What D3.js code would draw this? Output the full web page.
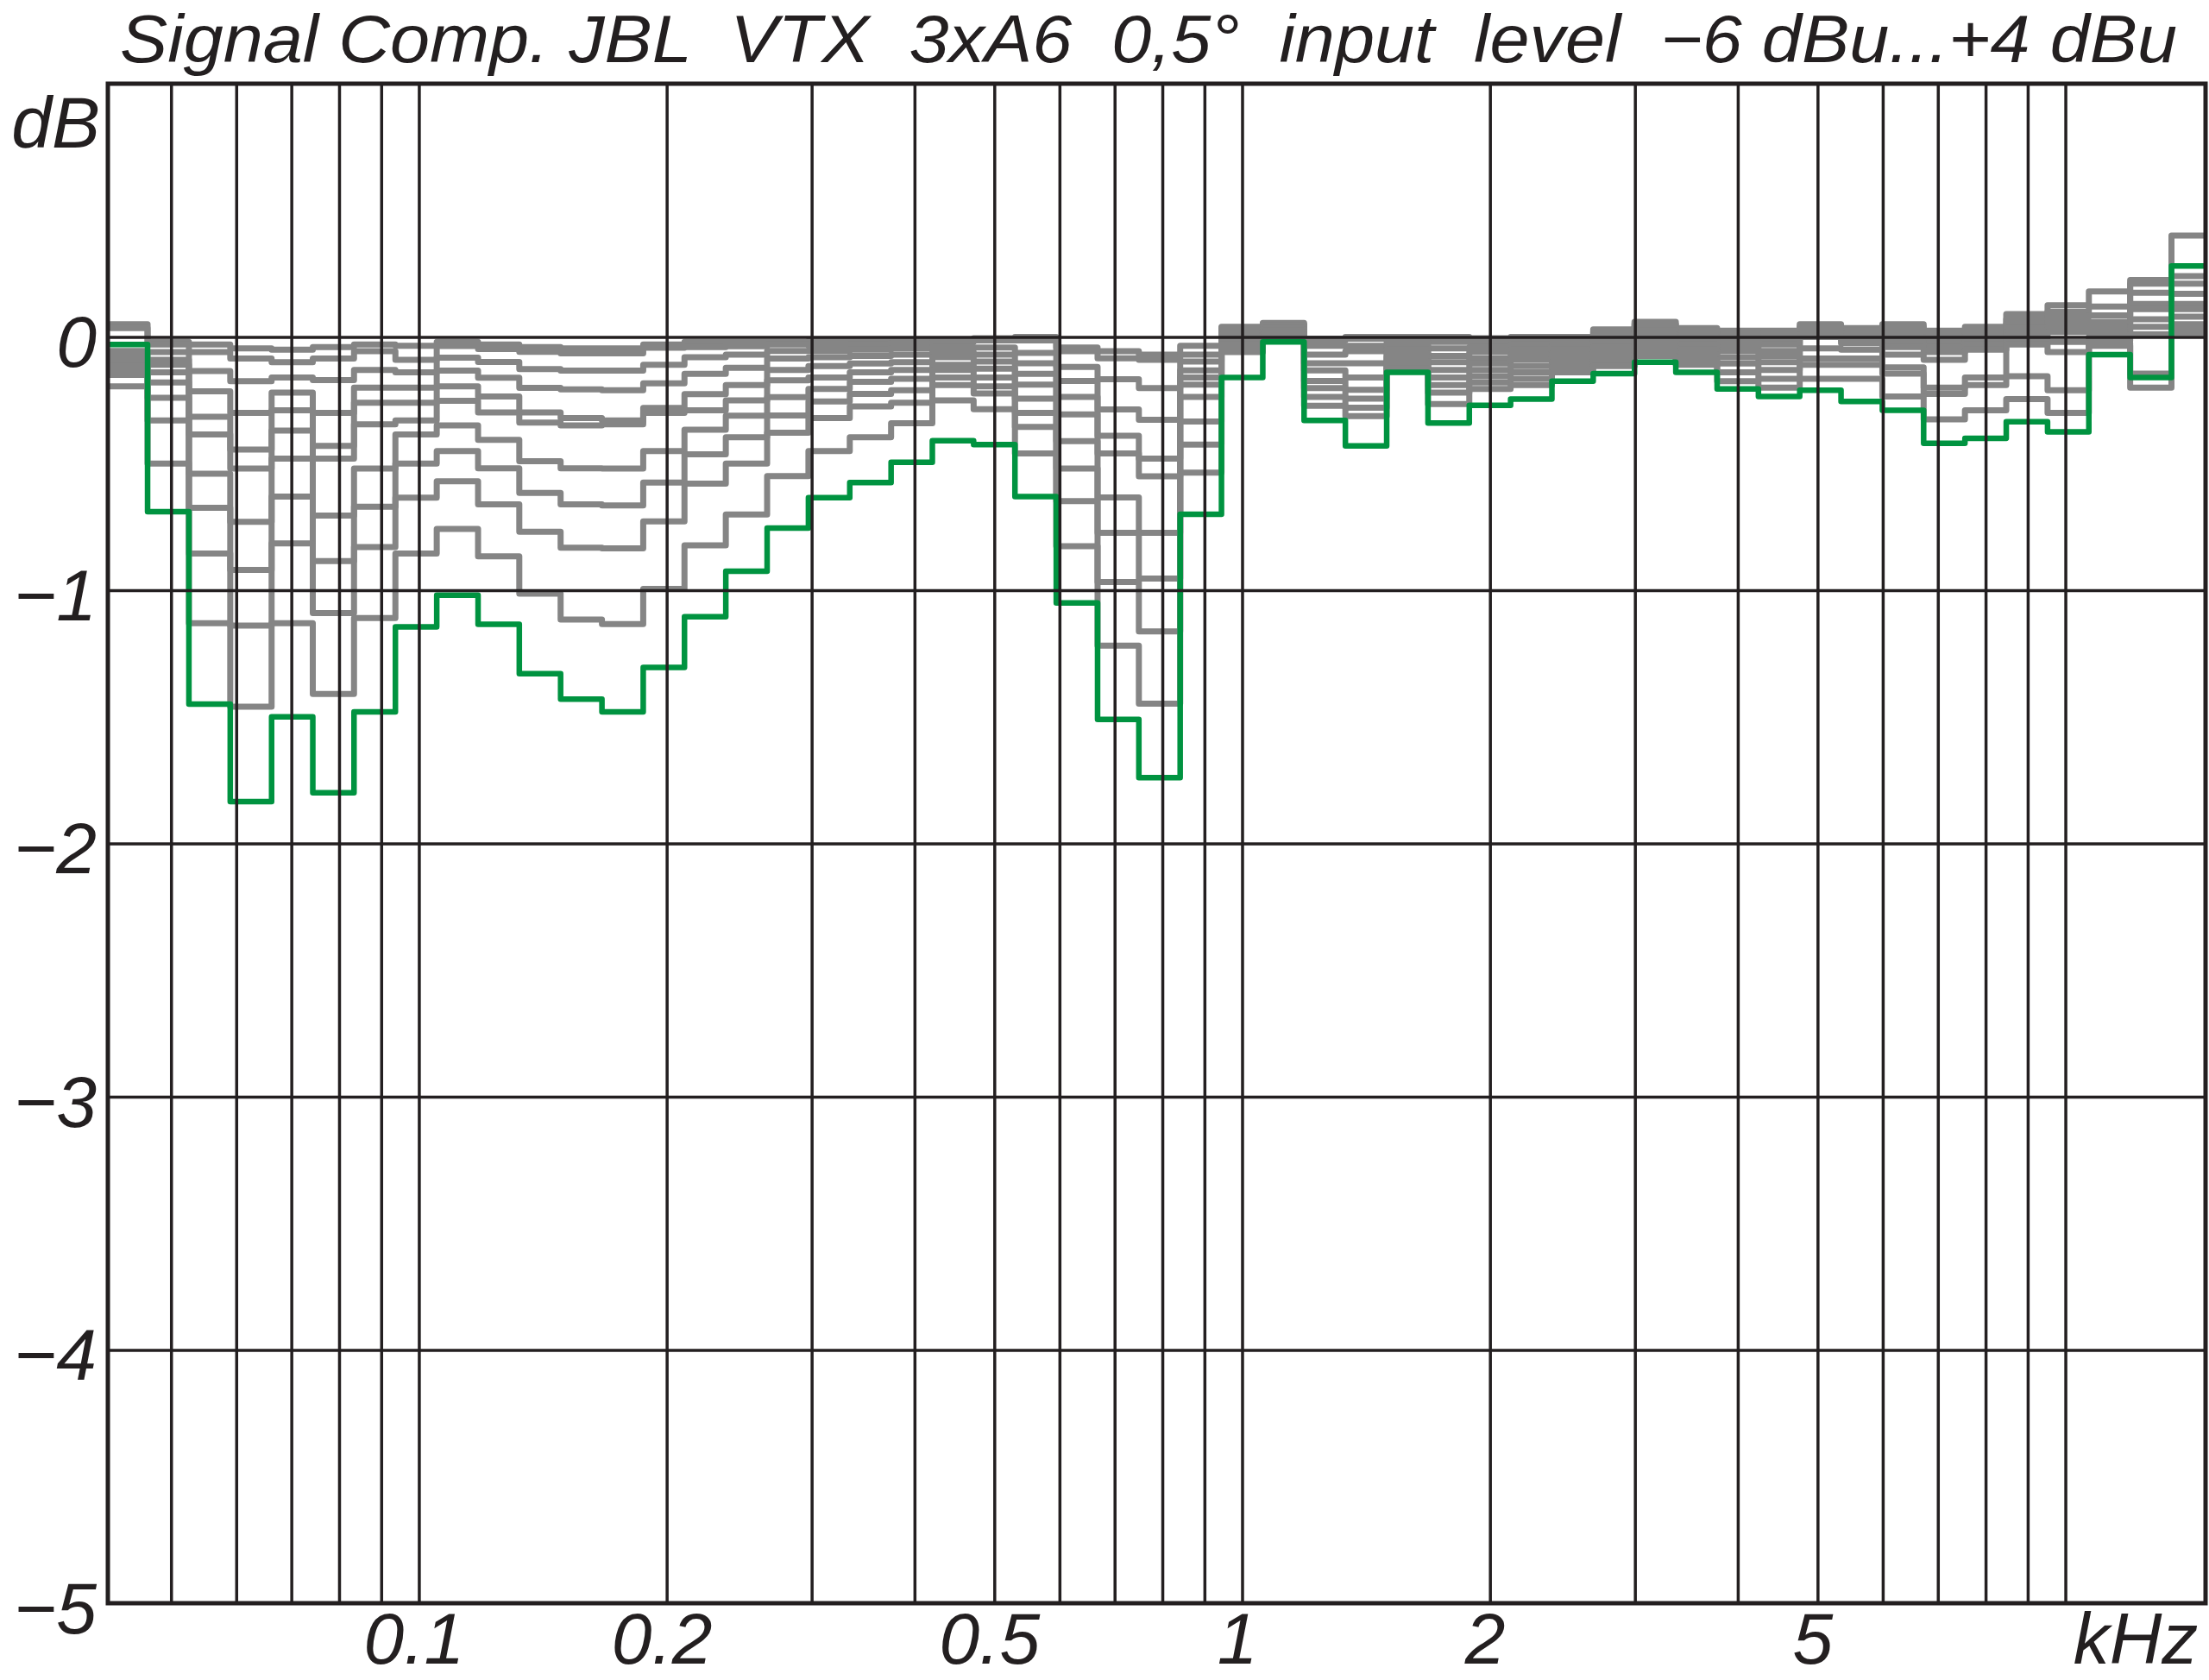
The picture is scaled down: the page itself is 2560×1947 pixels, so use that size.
<!DOCTYPE html>
<html>
<head>
<meta charset="utf-8">
<script src="https://cdn.jsdelivr.net/npm/d3@7"></script>
<style>
    body { margin: 0; background: #fff; }
    svg { display: block; }
    text { font-family: "Liberation Sans", Arial, sans-serif; font-style: italic; fill: #231f20; }
</style>
</head>
<body>
<svg id="chart"></svg>
<script>
// 1/6 octave band centres (Hz)
var bandCenters = [44.2, 49.6, 55.7, 62.5, 70.2, 78.7, 88.4, 99.2, 111.4, 125,
    140.3, 157.5, 176.8, 198.4, 222.7, 250, 280.6, 315.0, 353.6, 396.9,
    445.4, 500, 561.2, 630.0, 707.1, 793.7, 890.9, 1000, 1122.5, 1259.9,
    1414.2, 1587.4, 1781.8, 2000, 2244.9, 2519.8, 2828.4, 3174.8, 3563.6, 4000,
    4489.8, 5039.7, 5656.9, 6349.6, 7127.2, 8000, 8979.7, 10079.4, 11313.7, 12699.2,
    14254.4];

// level deviation in dB per band, one array per input level
var levelM6 = [0.05, -0.02, -0.03, -0.045, -0.05, -0.04, -0.03, -0.035, -0.02, -0.03,
    -0.04, -0.045, -0.045, -0.03, -0.02, -0.02, -0.02, -0.015, -0.015, -0.01,
    -0.01, -0.005, 0.0, -0.042, -0.056, -0.07, -0.035, 0.04, 0.055, -0.007,
    0.0, 0.0, 0.0, -0.005, 0.0, 0.0, 0.03, 0.06, 0.035, 0.025,
    0.025, 0.05, 0.035, 0.05, 0.025, 0.04, 0.09, 0.125, 0.18, 0.225, 0.40];
var levelM5 = [0.035, -0.03, -0.06, -0.085, -0.10, -0.085, -0.056, -0.09, -0.036, -0.048,
    -0.059, -0.065, -0.065, -0.043, -0.04, -0.037, -0.03, -0.035, -0.03, -0.025,
    -0.02, -0.014, -0.014, -0.056, -0.084, -0.09, -0.07, 0.035, 0.05, -0.014,
    -0.007, -0.01, -0.02, -0.02, -0.015, -0.01, 0.02, 0.05, 0.025, 0.015,
    0.01, 0.04, 0.025, 0.04, 0.01, 0.03, 0.07, 0.10, 0.12, 0.21, 0.24];
var levelM4 = [-0.055, -0.06, -0.135, -0.175, -0.16, -0.17, -0.13, -0.14, -0.082, -0.099,
    -0.127, -0.133, -0.133, -0.11, -0.08, -0.07, -0.055, -0.055, -0.05, -0.045,
    -0.04, -0.042, -0.063, -0.118, -0.167, -0.202, -0.097, 0.03, 0.045, -0.035,
    -0.035, -0.02, -0.045, -0.04, -0.03, -0.02, 0.005, 0.04, 0.015, 0.0,
    -0.01, 0.03, 0.01, 0.02, -0.005, 0.015, 0.05, 0.08, 0.085, 0.175, 0.21];
var levelM3 = [-0.07, -0.09, -0.215, -0.30, -0.22, -0.30, -0.20, -0.20, -0.133, -0.161,
    -0.201, -0.207, -0.21, -0.183, -0.146, -0.122, -0.085, -0.08, -0.075, -0.07,
    -0.06, -0.07, -0.104, -0.174, -0.286, -0.327, -0.132, 0.02, 0.04, -0.07,
    -0.056, -0.035, -0.075, -0.06, -0.05, -0.035, -0.01, 0.025, 0.0, -0.015,
    -0.03, 0.02, 0.0, 0.0, -0.02, 0.0, 0.035, 0.06, 0.06, 0.13, 0.17];
var levelM2 = [-0.085, -0.11, -0.315, -0.445, -0.29, -0.43, -0.26, -0.26, -0.195, -0.235,
    -0.298, -0.32, -0.33, -0.28, -0.226, -0.19, -0.13, -0.115, -0.105, -0.10,
    -0.08, -0.097, -0.146, -0.237, -0.39, -0.48, -0.16, 0.01, 0.035, -0.104,
    -0.104, -0.05, -0.10, -0.085, -0.07, -0.05, -0.025, 0.01, -0.015, -0.035,
    -0.055, 0.01, -0.01, -0.02, -0.04, -0.015, 0.02, 0.04, 0.04, 0.11, 0.13];
var levelM1 = [-0.10, -0.14, -0.385, -0.52, -0.37, -0.48, -0.345, -0.33, -0.252, -0.298,
    -0.338, -0.349, -0.345, -0.30, -0.29, -0.25, -0.171, -0.16, -0.14, -0.13,
    -0.11, -0.125, -0.188, -0.306, -0.46, -0.55, -0.188, 0.0, 0.03, -0.132,
    -0.16, -0.065, -0.13, -0.105, -0.09, -0.065, -0.04, 0.0, -0.03, -0.055,
    -0.075, 0.0, -0.025, -0.04, -0.06, -0.03, 0.005, 0.02, 0.02, 0.07, 0.11];
var level0 = [-0.115, -0.18, -0.54, -0.73, -0.48, -0.705, -0.52, -0.385, -0.349, -0.406,
    -0.491, -0.519, -0.52, -0.451, -0.366, -0.311, -0.238, -0.205, -0.177, -0.165,
    -0.13, -0.16, -0.244, -0.411, -0.634, -0.773, -0.237, -0.015, 0.025, -0.174,
    -0.209, -0.08, -0.16, -0.13, -0.115, -0.085, -0.06, -0.015, -0.05, -0.08,
    -0.10, -0.045, -0.05, -0.07, -0.09, -0.05, -0.01, -0.02, 0.0, 0.04, 0.08];
var levelP1 = [-0.13, -0.24, -0.675, -0.92, -0.63, -0.885, -0.67, -0.50, -0.451, -0.519,
    -0.616, -0.661, -0.665, -0.575, -0.463, -0.396, -0.31, -0.255, -0.225, -0.21,
    -0.16, -0.195, -0.30, -0.52, -0.773, -0.954, -0.334, -0.03, 0.02, -0.202,
    -0.244, -0.095, -0.19, -0.155, -0.14, -0.10, -0.075, -0.035, -0.07, -0.105,
    -0.13, -0.085, -0.085, -0.12, -0.20, -0.16, -0.03, -0.06, -0.015, 0.01, 0.05];
var levelP2 = [-0.15, -0.33, -0.855, -1.14, -0.815, -1.09, -0.83, -0.635, -0.57, -0.661,
    -0.769, -0.832, -0.835, -0.728, -0.579, -0.50, -0.378, -0.32, -0.274, -0.26,
    -0.19, -0.223, -0.355, -0.648, -0.968, -1.163, -0.425, -0.045, 0.01, -0.237,
    -0.279, -0.11, -0.22, -0.18, -0.165, -0.12, -0.095, -0.055, -0.09, -0.14,
    -0.165, -0.11, -0.11, -0.145, -0.225, -0.19, -0.155, -0.21, -0.025, -0.145, 0.03];
var levelP3 = [-0.195, -0.50, -1.13, -1.46, -1.13, -1.41, -1.11, -0.855, -0.758, -0.866,
    -1.014, -1.116, -1.134, -0.995, -0.823, -0.701, -0.549, -0.451, -0.396, -0.341,
    -0.25, -0.285, -0.46, -0.826, -1.219, -1.448, -0.536, -0.06, 0.0, -0.272,
    -0.313, -0.125, -0.265, -0.205, -0.19, -0.14, -0.115, -0.075, -0.11, -0.175,
    -0.20, -0.165, -0.165, -0.235, -0.325, -0.29, -0.245, -0.30, -0.035, -0.20, 0.015];
var levelP4 = [-0.03, -0.69, -1.45, -1.835, -1.50, -1.80, -1.48, -1.145, -1.02, -1.135,
    -1.33, -1.43, -1.48, -1.305, -1.105, -0.925, -0.755, -0.635, -0.575, -0.495,
    -0.41, -0.425, -0.63, -1.05, -1.51, -1.74, -0.70, -0.16, -0.02, -0.33,
    -0.43, -0.14, -0.34, -0.27, -0.245, -0.175, -0.145, -0.10, -0.14, -0.205,
    -0.235, -0.21, -0.255, -0.29, -0.42, -0.40, -0.335, -0.375, -0.07, -0.16, 0.28];

var grayLevels = [levelM6, levelM5, levelM4, levelM3, levelM2, levelM1, level0, levelP1, levelP2, levelP3];

// grid and tick values
var gridFreqs = [50, 60, 70, 80, 90, 100, 200, 300, 400, 500, 600, 700, 800, 900,
    1000, 2000, 3000, 4000, 5000, 6000, 7000, 8000, 9000, 10000];
var xTickValues = [100, 200, 500, 1000, 2000, 5000];
var xTickLabels = ["0.1", "0.2", "0.5", "1", "2", "5"];
var yGridValues = [0, -1, -2, -3, -4];
var yTickValues = [0, -1, -2, -3, -4, -5];
var titleText = "Signal Comp. JBL  VTX  3xA6  0,5°  input  level  \u22126 dBu...+4 dBu";

// Set the dimensions of the drawing
var width = 2560,
    height = 1947,
    plot = {left: 125, right: 2556, top: 97, bottom: 1858};

var ink = "#231f20",
    grayColor = "#858585",
    greenColor = "#009340",
    fontSize = 84;

var svg = d3.select("#chart")
    .attr("width", width)
    .attr("height", height);

var x = d3.scaleLog()
    .domain([41.9, 14800])
    .range([plot.left, plot.right]);

var y = d3.scaleLinear()
    .domain([-5, 1])
    .range([plot.bottom, plot.top]);

// band edges half way (log) between the centres
var n = bandCenters.length;
var edges = [];
edges.push(bandCenters[0] * Math.sqrt(bandCenters[0] / bandCenters[1]));
for (var i = 1; i < n; i++) {
    edges.push(Math.sqrt(bandCenters[i - 1] * bandCenters[i]));
}
edges.push(bandCenters[n - 1] * Math.sqrt(bandCenters[n - 1] / bandCenters[n - 2]));

function stepPoints(values) {
    var pts = [];
    values.forEach(function(v, i) {
        pts.push([edges[i], v]);
        pts.push([edges[i + 1], v]);
    });
    return pts;
}

var line = d3.line()
    .x(function(d) { return x(d[0]); })
    .y(function(d) { return y(d[1]); });

svg.append("clipPath")
    .attr("id", "plot-clip")
    .append("rect")
    .attr("x", plot.left)
    .attr("y", plot.top)
    .attr("width", plot.right - plot.left)
    .attr("height", plot.bottom - plot.top);

var curves = svg.append("g")
    .attr("clip-path", "url(#plot-clip)");

curves.selectAll("path.gray")
    .data(grayLevels)
    .enter().append("path")
    .attr("class", "gray")
    .attr("d", function(d) { return line(stepPoints(d)); })
    .attr("fill", "none")
    .attr("stroke", grayColor)
    .attr("stroke-width", 7)
    .attr("stroke-linejoin", "round");

curves.append("path")
    .attr("class", "green")
    .attr("d", line(stepPoints(levelP4)))
    .attr("fill", "none")
    .attr("stroke", greenColor)
    .attr("stroke-width", 6.5)
    .attr("stroke-linejoin", "round");

// grid lines on top of the curves
var xGrid = svg.append("g")
    .attr("transform", "translate(0," + plot.bottom + ")")
    .call(d3.axisBottom(x)
        .tickValues(gridFreqs)
        .tickSize(-(plot.bottom - plot.top))
        .tickFormat(""));
xGrid.select(".domain").remove();
xGrid.selectAll("line")
    .attr("stroke", ink)
    .attr("stroke-width", 3.5);

var yGrid = svg.append("g")
    .attr("transform", "translate(" + plot.left + ",0)")
    .call(d3.axisLeft(y)
        .tickValues(yGridValues)
        .tickSize(-(plot.right - plot.left))
        .tickFormat(""));
yGrid.select(".domain").remove();
yGrid.selectAll("line")
    .attr("stroke", ink)
    .attr("stroke-width", 3.5);

// frame
svg.append("rect")
    .attr("x", plot.left)
    .attr("y", plot.top)
    .attr("width", plot.right - plot.left)
    .attr("height", plot.bottom - plot.top)
    .attr("fill", "none")
    .attr("stroke", ink)
    .attr("stroke-width", 5);

// x labels
var xLabels = svg.append("g")
    .attr("transform", "translate(0,1928)")
    .call(d3.axisBottom(x)
        .tickValues(xTickValues)
        .tickSize(0)
        .tickFormat(function(d, i) { return xTickLabels[i]; }));
xLabels.select(".domain").remove();
xLabels.attr("font-family", null).attr("font-size", null);
xLabels.selectAll("text")
    .attr("x", -6)
    .attr("y", 0)
    .attr("dy", 0)
    .style("font-size", fontSize + "px");

svg.append("text")
    .attr("x", 2475)
    .attr("y", 1928)
    .attr("text-anchor", "middle")
    .style("font-size", fontSize + "px")
    .text("kHz");

// y labels
var yLabels = svg.append("g")
    .attr("transform", "translate(112,0)")
    .call(d3.axisLeft(y)
        .tickValues(yTickValues)
        .tickSize(0)
        .tickFormat(function(d) { return d === 0 ? "0" : "\u2212" + Math.abs(d); }));
yLabels.select(".domain").remove();
yLabels.attr("font-family", null).attr("font-size", null);
yLabels.selectAll("text")
    .attr("x", 0)
    .attr("dy", 0)
    .attr("y", 34)
    .style("font-size", fontSize + "px");

svg.append("text")
    .attr("x", 116)
    .attr("y", 171)
    .attr("text-anchor", "end")
    .style("font-size", fontSize + "px")
    .text("dB");

// title
svg.append("text")
    .attr("x", 139)
    .attr("y", 72)
    .attr("textLength", 2384)
    .attr("lengthAdjust", "spacingAndGlyphs")
    .style("white-space", "pre")
    .style("font-size", "78px")
    .text(titleText);
</script>
</body>
</html>
